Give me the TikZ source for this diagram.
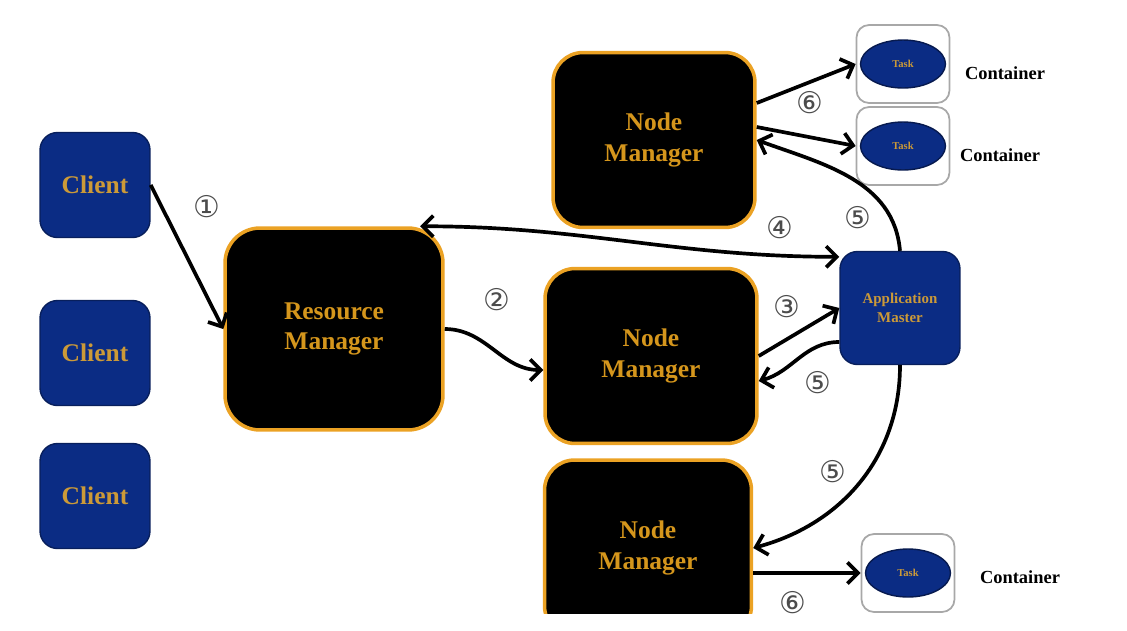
\documentclass[tikz,border=0pt]{standalone}
\usepackage{fontspec}
\setmainfont{Liberation Serif}
\newfontfamily\circfont{DejaVu Sans}
\usepackage{tikz}
\usetikzlibrary{shapes.geometric,arrows.meta,calc}
\definecolor{navy}{HTML}{0B2C84}
\definecolor{amber}{HTML}{EBA224}
\definecolor{amberText}{HTML}{D5961C}
\definecolor{clientText}{HTML}{CC9A38}
\definecolor{boxgray}{HTML}{A8A8A8}

\begin{document}
\begin{tikzpicture}[x=0.02cm,y=-0.02cm,thick]
        %
        % `client' and `master' are the blue boxes, `manager' the black ones.
        % `container' and `task' are used for the containers on the right.
        % `num' is used for the circled step numbers.
        \tikzstyle{client} = [draw=navy!70!black,fill=navy,rounded corners=3.5mm,minimum width=2.2cm,minimum height=2.1cm,text=clientText,font=\bfseries\fontsize{14.5}{17}\selectfont]
        \tikzstyle{manager} = [draw=amber,line width=2pt,fill=black,rounded corners=6mm,align=center,text=amberText,font=\bfseries\fontsize{14.5}{17.5}\selectfont]
        \tikzstyle{master} = [draw=navy!70!black,fill=navy,rounded corners=3.5mm,minimum width=2.4cm,minimum height=2.26cm,align=center,text=clientText,font=\bfseries\fontsize{8.5}{11}\selectfont]
        \tikzstyle{container} = [draw=boxgray,line width=1pt,fill=white,rounded corners=2.5mm,minimum width=1.86cm,minimum height=1.56cm]
        \tikzstyle{task} = [ellipse,draw=navy!60!black,fill=navy,minimum width=1.7cm,minimum height=0.96cm,text=clientText,font=\bfseries\fontsize{6}{6}\selectfont]
        \tikzstyle{caption} = [font=\bfseries\fontsize{10.5}{12}\selectfont]
        \tikzstyle{num} = [text=black!70,font=\circfont\fontsize{17}{17}\selectfont,inner sep=0pt]
        \tikzstyle{flow} = [line width=2.1pt,-{Straight Barb[length=6pt,width=12pt]}]
        %
        \useasboundingbox (0,0) rectangle (1127,630);
        %
        % Clients
        \node[client] (client1) at (95,185) {Client};
        \node[client] (client2) at (95,353) {Client};
        \node[client] (client3) at (95,496) {Client};
        %
        % Resource manager
        \node[manager,minimum width=4.36cm,minimum height=4.04cm,rounded corners=7mm] (rm) at (334,329) {Resource\\Manager};
        %
        % Node managers
        \node[manager,minimum width=4.04cm,minimum height=3.5cm] (nm1) at (654,140) {Node\\Manager};
        \node[manager,minimum width=4.24cm,minimum height=3.5cm] (nm2) at (651,356) {Node\\Manager};
        \begin{scope}
        \clip (0,0) rectangle (1127,613);
        \node[manager,minimum width=4.14cm,minimum height=3.52cm] (nm3) at (648,548) {Node\\Manager};
        \end{scope}
        %
        % Application master
        \node[master] (am) at (900,308) {Application\\Master};
        %
        % Containers
        \node[container] (box1) at (903,64) {};
        \node[container] (box2) at (903,146) {};
        \node[container] (box3) at (908,573) {};
        \node[task] (task1) at (box1) {Task};
        \node[task] (task2) at (box2) {Task};
        \node[task] (task3) at (box3) {Task};
        \node[caption] (cap1) at (1005,73) {Container};
        \node[caption] (cap2) at (1000,155) {Container};
        \node[caption] (cap3) at (1020,577) {Container};
        %
        % Steps 1 - 3
        \draw[flow] (client1.east) -- (rm.west);
        \draw[flow] (rm.east) to[out=0,in=180] ($(nm2.west)+(0,14)$);
        \draw[flow] (nm2.east) -- (am.west);
        %
        % Step 4
        \draw[flow,{Straight Barb[length=6pt,width=12pt]}-{Straight Barb[length=6pt,width=12pt]}] (rm.50) to[out=0,in=180] ($(am.north west)+(0,6)$);
        %
        % Step 5
        \draw[flow] (am.north) to[out=95,in=-20] (nm1.east);
        \draw[flow] ($(am.west)+(0,34)$) to[out=180,in=15] ($(nm2.east)+(0,25)$);
        \draw[flow] (am.south) to[out=-90,in=15] (nm3.east);
        %
        % Step 6
        \draw[flow] ($(nm1.east)+(0,-37)$) -- (box1.west);
        \draw[flow] ($(nm1.east)+(0,-13)$) -- (box2.west);
        \draw[flow] (nm3.east |- box3.west) -- (box3.west);
        %
        % Step numbers
        \node[num] (n1) at (207,207) {①};
        \node[num] (n2) at (497,300) {②};
        \node[num] (n3) at (787,307) {③};
        \node[num] (n4) at (780,228) {④};
        \node[num] (n5a) at (858,218) {⑤};
        \node[num] (n5b) at (818,383) {⑤};
        \node[num] (n5c) at (833,472) {⑤};
        \node[num] (n6a) at (810,103) {⑥};
        \node[num] (n6b) at (793,603) {⑥};
        %
\end{tikzpicture}
\end{document}
